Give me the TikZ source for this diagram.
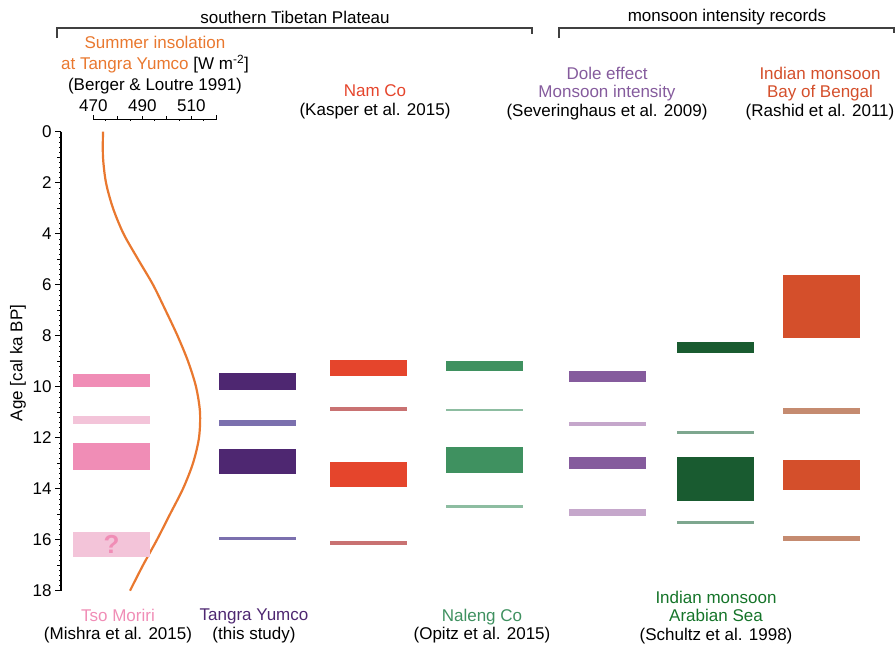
\documentclass[tikz,border=0pt]{standalone}
\usepackage{fontspec}
\setmainfont{Liberation Sans}
\usepackage{xcolor}
\usepackage{tikz}
\usetikzlibrary{calc, positioning}

\definecolor{insolOrange}{HTML}{E9782F}
\definecolor{tsoDark}{HTML}{F08DB6}
\definecolor{tsoLight}{HTML}{F3C4D9}
\definecolor{tangraDark}{HTML}{4E2771}
\definecolor{tangraLight}{HTML}{7B70AE}
\definecolor{namDark}{HTML}{E5452C}
\definecolor{namLight}{HTML}{C97272}
\definecolor{nalengDark}{HTML}{3F9160}
\definecolor{nalengLight}{HTML}{8DBDA1}
\definecolor{doleDark}{HTML}{855B9D}
\definecolor{doleLight}{HTML}{C5A7CB}
\definecolor{arabDark}{HTML}{195B30}
\definecolor{arabLight}{HTML}{7EA78F}
\definecolor{bengalDark}{HTML}{D44F2B}
\definecolor{bengalLight}{HTML}{C58B70}

\begin{document}
\begin{tikzpicture}[x=1pt, y=-1pt,
    lbl/.style={align=center, inner sep=0pt, font=\fontsize{17}{18.5}\selectfont},
    bracket/.style={draw=black!75, line width=1.6pt},
    insol/.style={draw=insolOrange, line width=2.2pt}]
    \useasboundingbox (0,0) rectangle (895,646);

    % Tiêu đề hai nhóm và dấu ngoặc
    \node[lbl] (hdrTibet) at (295,17.5) {southern Tibetan Plateau};
    \draw[bracket] (57,38) |- (532,28) -- (532,34);
    \node[lbl] (hdrMonsoon) at (727,17.5) {monsoon intensity records};
    \draw[bracket] (559,38) |- (894,28) -- (894,33);

    % Trục bức xạ mùa hè (phía trên)
    \node[lbl, font=\fontsize{17}{21}\selectfont] (insolTitle) at (155,65.5)
        {\textcolor{insolOrange}{Summer insolation}\\
         \textcolor{insolOrange}{at Tangra Yumco} [W m\textsuperscript{-2}]\\
         (Berger \& Loutre 1991)};
    \draw[line width=1pt] (93.3,115) -- (93.3,119.3) -- (216,119.3) -- (216,115);
    \foreach \v in {480,490,...,510}
        \draw[line width=1pt] ({93.3+2.45*(\v-470)},119.3) -- ++(0,-3.5);
    \foreach \v in {475,485,...,515}
        \draw[line width=1pt] ({93.3+2.45*(\v-470)},119.3) -- ++(0,2);
    \foreach \v in {470,490,510}
        \node[lbl] (insol\v) at ({93.3+2.45*(\v-470)},106) {\v};

    % Tiêu đề các cột phía trên
    \node[lbl] (namTitle) at (375,102) {\textcolor{namDark}{Nam Co}\\(Kasper et al. 2015)};
    \node[lbl] (doleTitle) at (607,93.5) {\textcolor{doleDark}{Dole effect}\\
        \textcolor{doleDark}{Monsoon intensity}\\(Severinghaus et al. 2009)};
    \node[lbl] (bengalTitle) at (820,93.5) {\textcolor{bengalDark}{Indian monsoon}\\
        \textcolor{bengalDark}{Bay of Bengal}\\(Rashid et al. 2011)};

    % Tiêu đề các cột phía dưới
    \node[lbl] (tsoTitle) at (118,626) {\textcolor{tsoDark}{Tso Moriri}\\(Mishra et al. 2015)};
    \node[lbl] (tangraTitle) at (254,626) {\textcolor{tangraDark}{Tangra Yumco}\\(this study)};
    \node[lbl] (nalengTitle) at (482,626) {\textcolor{nalengDark}{Naleng Co}\\(Opitz et al. 2015)};
    \node[lbl] (arabTitle) at (716,617.5) {\textcolor{arabDark!85!green}{Indian monsoon}\\
        \textcolor{arabDark!85!green}{Arabian Sea}\\(Schultz et al. 1998)};

    % Vùng dữ liệu: trục tung theo tuổi [ka]
    \begin{scope}[yshift=-131.7pt, y=-25.5pt]
        \draw[line width=1.2pt] (61,0) -- (61,18);
        \foreach \i in {0,...,90}
            \draw[line width=0.6pt] (61,\i/5) -- ++(-2,0);
        \foreach \t in {1,3,...,17}
            \draw[line width=0.9pt] (61,\t) -- ++(-4,0);
        \foreach \t in {0,2,...,18}
            \draw[line width=1pt] (61,\t) -- ++(-6,0) node[lbl, left=3pt] (age\t) {\t};
        \node[lbl, rotate=90] (ageLabel) at (18,9.07) {Age [cal ka BP]};

        % Đường bức xạ
        \draw[insol] plot[smooth] coordinates {(103,0) (103,1) (106,2) (113,3) (123.5,4)
            (138,5) (153,6) (165.5,7) (177.5,8) (188,9) (196,10) (200,11) (199,12)
            (193,13) (183,14) (170,15) (157,16) (143,17) (130,18)};

        % Tso Moriri
        \foreach \ya/\yb/\c in {9.5/10/tsoDark, 11.15/11.47/tsoLight,
                                12.2/13.27/tsoDark, 15.7/16.67/tsoLight}
            \fill[\c] (73,\ya) rectangle (150,\yb);
        \node[text=tsoDark, font=\fontsize{26}{26}\selectfont\bfseries] (tsoQ) at (111.5,16.2) {?};

        % Tangra Yumco
        \foreach \ya/\yb/\c in {9.45/10.13/tangraDark, 11.32/11.54/tangraLight,
                                12.45/13.42/tangraDark, 15.88/16.03/tangraLight}
            \fill[\c] (219,\ya) rectangle (296,\yb);

        % Nam Co
        \foreach \ya/\yb/\c in {8.97/9.58/namDark, 10.81/10.96/namLight,
                                12.94/13.95/namDark, 16.04/16.2/namLight}
            \fill[\c] (330,\ya) rectangle (407,\yb);

        % Naleng Co
        \foreach \ya/\yb/\c in {8.98/9.37/nalengDark, 10.86/10.96/nalengLight,
                                12.35/13.4/nalengDark, 14.63/14.75/nalengLight}
            \fill[\c] (446,\ya) rectangle (523,\yb);

        % Dole effect
        \foreach \ya/\yb/\c in {9.38/9.8/doleDark, 11.38/11.54/doleLight,
                                12.77/13.23/doleDark, 14.81/15.07/doleLight}
            \fill[\c] (569,\ya) rectangle (646,\yb);

        % Arabian Sea
        \foreach \ya/\yb/\c in {8.24/8.67/arabDark, 11.74/11.87/arabLight,
                                12.77/14.47/arabDark, 15.25/15.4/arabLight}
            \fill[\c] (677,\ya) rectangle (754,\yb);

        % Bay of Bengal
        \foreach \ya/\yb/\c in {5.62/8.1/bengalDark, 10.82/11.07/bengalLight,
                                12.86/14.06/bengalDark, 15.84/16.06/bengalLight}
            \fill[\c] (783,\ya) rectangle (860,\yb);
    \end{scope}
\end{tikzpicture}
\end{document}
